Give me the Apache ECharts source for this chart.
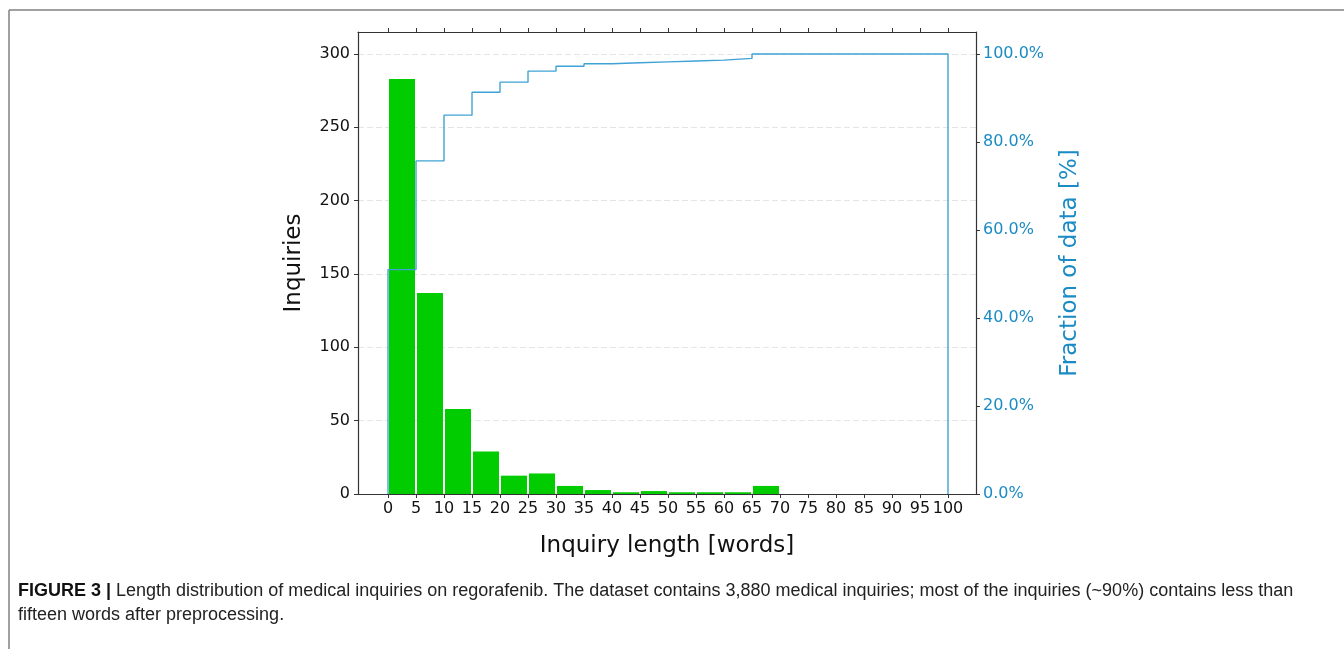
<!DOCTYPE html>
<html>
<head>
<meta charset="utf-8">
<script src="https://cdn.jsdelivr.net/npm/echarts@6/dist/echarts.min.js"></script>
<style>
html,body{margin:0;padding:0;background:#fff;}
#chart{width:1344px;height:649px;}
</style>
</head>
<body>
<div id="chart"></div>
<script>
// Histogram bins (start of each 5-word bin) and counts
const binStarts = [0, 5, 10, 15, 20, 25, 30, 35, 40, 45, 50, 55, 60, 65];
const binWidth = 5;
const counts = [283, 137, 58, 29, 12.5, 14, 5.5, 2.7, 1.2, 2, 1.2, 1.2, 1.2, 5.5];
// Cumulative fraction (step line), x = right edge of each bin
const cumX = [0, 5, 10, 15, 20, 25, 30, 35, 40, 45, 50, 55, 60, 65, 70, 75, 80, 85, 90, 95, 100, 100];
const cumPct = [0, 51, 75.7, 86.1, 91.3, 93.6, 96.1, 97.2, 97.8, 98.0, 98.2, 98.4, 98.6, 99.0, 100, 100, 100, 100, 100, 100, 100, 0];
const xTicks = [0, 5, 10, 15, 20, 25, 30, 35, 40, 45, 50, 55, 60, 65, 70, 75, 80, 85, 90, 95, 100];
const leftTicks = [0, 50, 100, 150, 200, 250, 300];
const rightTicks = [0, 20, 40, 60, 80, 100];
const caption1 = 'Length distribution of medical inquiries on regorafenib. The dataset contains 3,880 medical inquiries; most of the inquiries (~90%) contains less than';
const caption2 = 'fifteen words after preprocessing.';

const chart = echarts.init(document.getElementById('chart'), null, {renderer: 'canvas'});
const font = 'DejaVu Sans';
const blueText = '#1a8bc4';
const blueLine = '#3fa2d4';
const axisCol = '#333';

const barData = binStarts.map((s, i) => [s, s + binWidth, counts[i]]);
const cumData = cumX.map((x, i) => [x, cumPct[i]]);

const option = {
  animation: false,
  backgroundColor: '#fff',
  grid: {left: 358, right: 368, top: 32, bottom: 155, containLabel: false},
  xAxis: [{
    type: 'value', min: -5.36, max: 105, position: 'bottom',
    name: 'Inquiry length [words]', nameLocation: 'middle', nameGap: 41,
    nameTextStyle: {fontFamily: font, fontSize: 23, color: '#111'},
    axisLine: {show: true, onZero: false, lineStyle: {color: axisCol, width: 1.2}},
    axisTick: {show: true, length: 4, customValues: xTicks, lineStyle: {color: axisCol}},
    axisLabel: {customValues: xTicks, fontFamily: font, fontSize: 16, color: '#111', margin: 7},
    splitLine: {show: false}
  }, {
    type: 'value', min: -5.36, max: 105, position: 'top',
    axisLine: {show: true, onZero: false, lineStyle: {color: axisCol, width: 1.2}},
    axisTick: {show: true, length: 4, customValues: xTicks, lineStyle: {color: axisCol}},
    axisLabel: {show: false, customValues: xTicks},
    splitLine: {show: false}
  }],
  yAxis: [{
    type: 'value', min: 0, max: 315, position: 'left',
    name: 'Inquiries', nameLocation: 'middle', nameGap: 52,
    nameTextStyle: {fontFamily: font, fontSize: 23, color: '#111'},
    axisLine: {show: true, onZero: false, lineStyle: {color: axisCol, width: 1.2}},
    axisTick: {show: true, length: 4, customValues: leftTicks, lineStyle: {color: axisCol}},
    axisLabel: {customValues: leftTicks, fontFamily: font, fontSize: 16, color: '#111', margin: 8},
    splitLine: {show: true, lineStyle: {color: '#e4e4e4', type: [6, 3], width: 1}}
  }, {
    type: 'value', min: 0, max: 105, position: 'right',
    name: 'Fraction of data [%]', nameLocation: 'middle', nameGap: 83,
    nameTextStyle: {fontFamily: font, fontSize: 23, color: blueText},
    axisLine: {show: true, onZero: false, lineStyle: {color: axisCol, width: 1.2}},
    axisTick: {show: true, length: 4, customValues: rightTicks, lineStyle: {color: axisCol}},
    axisLabel: {customValues: rightTicks, fontFamily: font, fontSize: 16, color: blueText, margin: 7,
      formatter: v => v.toFixed(1) + '%'},
    splitLine: {show: false}
  }],
  series: [{
    type: 'custom',
    xAxisIndex: 0, yAxisIndex: 0,
    data: barData,
    encode: {x: [0, 1], y: 2},
    renderItem: function (params, api) {
      const p0 = api.coord([api.value(0), 0]);
      const p1 = api.coord([api.value(1), api.value(2)]);
      return {
        type: 'rect',
        shape: {x: p0[0] + 1, y: p1[1], width: p1[0] - p0[0] - 2, height: p0[1] - p1[1]},
        style: {fill: '#00cc00'}
      };
    },
    z: 2
  }, {
    type: 'line',
    xAxisIndex: 0, yAxisIndex: 1,
    data: cumData,
    step: 'start',
    showSymbol: false,
    lineStyle: {color: blueLine, width: 1.4},
    z: 3
  }],
  graphic: [
    {type: 'line', shape: {x1: 9, y1: 10, x2: 1344, y2: 10}, style: {stroke: '#808080', lineWidth: 1.5}},
    {type: 'line', shape: {x1: 9, y1: 10, x2: 9, y2: 649}, style: {stroke: '#808080', lineWidth: 1.5}},
    {type: 'text', left: 18, top: 582, style: {
      text: '{b|FIGURE 3 |} ' + caption1,
      rich: {b: {fontFamily: 'Liberation Sans', fontWeight: 'bold', fontSize: 18, fill: '#111'}},
      fontFamily: 'Liberation Sans', fontSize: 18, fill: '#222'
    }},
    {type: 'text', left: 18, top: 606, style: {
      text: caption2, fontFamily: 'Liberation Sans', fontSize: 18, fill: '#222'
    }}
  ]
};
chart.setOption(option);
</script>
</body>
</html>
